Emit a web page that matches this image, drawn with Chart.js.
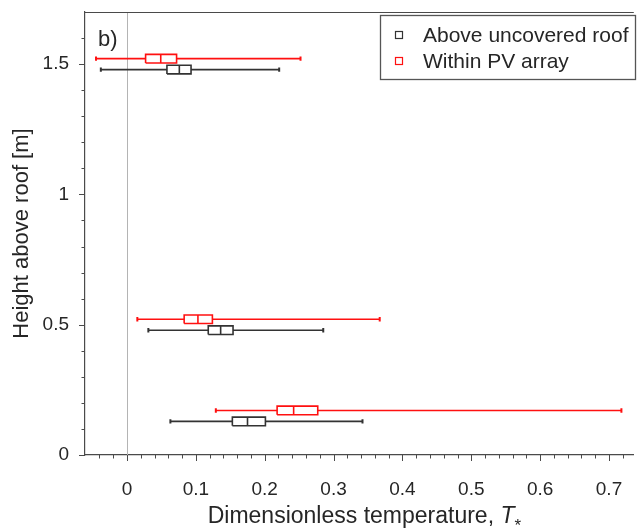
<!DOCTYPE html>
<html><head><meta charset="utf-8">
<script src="https://cdn.jsdelivr.net/npm/chart.js@4.4.0/dist/chart.umd.min.js"></script>
<style>html,body{margin:0;padding:0;background:#fff;overflow:hidden}#wrap{width:638px;height:531px}</style>
</head><body><div id="wrap"><canvas id="c" width="638" height="531"></canvas></div>
<script>
// ---- data ----
const heights = [1.5, 0.5, 0.15];
const seriesNames = ['Above uncovered roof', 'Within PV array'];
// per height: lower whisker, Q1, median, Q3, upper whisker
const uncoveredLow = [-0.038, 0.031, 0.063];
const uncoveredQ1  = [0.058, 0.118, 0.153];
const uncoveredMed = [0.076, 0.136, 0.175];
const uncoveredQ3  = [0.093, 0.154, 0.201];
const uncoveredHigh= [0.221, 0.285, 0.342];
const pvLow  = [-0.045, 0.015, 0.129];
const pvQ1   = [0.027, 0.083, 0.218];
const pvMed  = [0.049, 0.103, 0.242];
const pvQ3   = [0.072, 0.124, 0.277];
const pvHigh = [0.252, 0.367, 0.718];
const xTickLabels = [0, 0.1, 0.2, 0.3, 0.4, 0.5, 0.6, 0.7];
const yTickLabels = [0, 0.5, 1, 1.5];
const xMinorTicks = [-0.04,-0.02,0.02,0.04,0.06,0.08,0.12,0.14,0.16,0.18,0.22,0.24,0.26,0.28,0.32,0.34,0.36,0.38,0.42,0.44,0.46,0.48,0.52,0.54,0.56,0.58,0.62,0.64,0.66,0.68,0.72];
const yMinorTicks = [0.1,0.2,0.3,0.4,0.6,0.7,0.8,0.9,1.1,1.2,1.3,1.4,1.6];

// ---- styling ----
const FONT = "'Liberation Sans', Arial, Helvetica, sans-serif";
const TXT = '#262626';
const AX = '#4a4a4a';
const BLACK = '#333333';
const RED = '#ff1010';
const PAIR_OFFSET = 0.021;   // vertical offset of each series from its height (y units)
const BOX_HALF = 0.0165;     // half box height (y units)

function makeBoxDatasets(low, q1, med, q3, high, color, sign) {
  const out = [];
  heights.forEach((h, i) => {
    const y = h + sign * PAIR_OFFSET;
    out.push({
      data: [{x: low[i], y}, {x: q1[i], y}, {x: (q1[i] + q3[i]) / 2, y: null}, {x: q3[i], y}, {x: high[i], y}],
      borderColor: color, borderWidth: 1.6, spanGaps: false,
      pointRadius: [2.2, 0, 0, 0, 2.2], pointStyle: 'line', pointRotation: 90,
      pointBorderColor: color, pointBorderWidth: 2, pointHoverRadius: 0
    });
    out.push({
      data: [{x: q1[i], y: y - BOX_HALF}, {x: q3[i], y: y - BOX_HALF}, {x: q3[i], y: y + BOX_HALF}, {x: q1[i], y: y + BOX_HALF}, {x: q1[i], y: y - BOX_HALF}],
      borderColor: color, borderWidth: 1.6, pointRadius: 0, borderJoinStyle: 'miter'
    });
    out.push({
      data: [{x: med[i], y: y - BOX_HALF}, {x: med[i], y: y + BOX_HALF}],
      borderColor: color, borderWidth: 1.6, pointRadius: 0
    });
  });
  return out;
}

const datasets = [
  ...makeBoxDatasets(uncoveredLow, uncoveredQ1, uncoveredMed, uncoveredQ3, uncoveredHigh, BLACK, -1),
  ...makeBoxDatasets(pvLow, pvQ1, pvMed, pvQ3, pvHigh, RED, +1)
];

const decor = {
  id: 'decor',
  beforeDatasetsDraw(chart) {
    const {ctx, chartArea: a, scales: {x}} = chart;
    const px = Math.round(x.getPixelForValue(0)) + 0.5;
    ctx.save();
    ctx.strokeStyle = '#b4b4b4'; ctx.lineWidth = 1;
    ctx.beginPath(); ctx.moveTo(px, a.top); ctx.lineTo(px, a.bottom); ctx.stroke();
    ctx.restore();
  },
  afterDraw(chart) {
    const {ctx, chartArea: a, scales: {x, y}} = chart;
    ctx.save();
    ctx.strokeStyle = AX; ctx.lineWidth = 1.2;
    // top box line
    ctx.beginPath(); ctx.moveTo(a.left, a.top + 0.5); ctx.lineTo(a.right, a.top + 0.5); ctx.stroke();
    // tick marks (outward)
    ctx.lineWidth = 1;
    ctx.beginPath();
    xTickLabels.forEach(v => { const p = Math.round(x.getPixelForValue(v)) + 0.5; ctx.moveTo(p, a.bottom); ctx.lineTo(p, a.bottom + 6); });
    xMinorTicks.forEach(v => { const p = Math.round(x.getPixelForValue(v)) + 0.5; ctx.moveTo(p, a.bottom); ctx.lineTo(p, a.bottom + 3.5); });
    yTickLabels.forEach(v => { const p = Math.round(y.getPixelForValue(v)) + 0.5; ctx.moveTo(a.left, p); ctx.lineTo(a.left - 6, p); });
    yMinorTicks.forEach(v => { const p = Math.round(y.getPixelForValue(v)) + 0.5; ctx.moveTo(a.left, p); ctx.lineTo(a.left - 3.5, p); });
    ctx.stroke();

    // x axis title with italic T and subscript star
    const cx = (a.left + a.right) / 2 + 5, ty = 517;
    ctx.fillStyle = TXT; ctx.textBaseline = 'middle'; ctx.textAlign = 'left';
    const partA = 'Dimensionless temperature, ';
    ctx.font = '23px ' + FONT; const wA = ctx.measureText(partA).width;
    ctx.font = 'italic 23px ' + FONT; const wT = ctx.measureText('T').width;
    ctx.font = '17px ' + FONT; const wS = ctx.measureText('*').width;
    let sx = cx - (wA + wT + wS) / 2;
    ctx.font = '23px ' + FONT; ctx.fillText(partA, sx, ty); sx += wA;
    ctx.font = 'italic 23px ' + FONT; ctx.fillText('T', sx, ty); sx += wT;
    ctx.font = '17px ' + FONT; ctx.fillText('*', sx, ty + 9);

    // panel label
    ctx.font = '22px ' + FONT; ctx.textBaseline = 'alphabetic';
    ctx.fillText('b)', 98, 46);

    // legend
    const lx = 380.5, ly = 15.5, lw = 255, lh = 64;
    ctx.fillStyle = '#fff'; ctx.fillRect(lx, ly, lw, lh);
    ctx.strokeStyle = '#555'; ctx.lineWidth = 1.3; ctx.strokeRect(lx, ly, lw, lh);
    const items = [[seriesNames[0], BLACK, 35], [seriesNames[1], RED, 61]];
    items.forEach(([t, c, yy]) => {
      ctx.strokeStyle = c; ctx.lineWidth = 1.2;
      ctx.strokeRect(395.5, yy - 3.5, 7, 7);
      ctx.fillStyle = TXT; ctx.font = '21px ' + FONT; ctx.textBaseline = 'middle';
      ctx.fillText(t, 423, yy + 1);
    });
    ctx.restore();
  }
};

new Chart(document.getElementById('c'), {
  type: 'line',
  data: {datasets},
  options: {
    responsive: false, animation: false, devicePixelRatio: 1,
    layout: {padding: {top: 12, right: 0, left: 0, bottom: 0}},
    plugins: {legend: {display: false}, tooltip: {enabled: false}},
    events: [],
    scales: {
      x: {
        type: 'linear', position: 'bottom', min: -0.061, max: 0.736,
        grid: {display: false},
        border: {display: true, color: AX, width: 1.2},
        afterBuildTicks: s => { s.ticks = xTickLabels.map(v => ({value: v})); },
        afterFit: s => { s.height = 76; s.paddingLeft = 0; s.paddingRight = 0; s.paddingTop = 0; s.paddingBottom = 0; },
        ticks: {font: {size: 19, family: FONT}, color: TXT, padding: 15, maxRotation: 0, autoSkip: false,
                callback: v => String(v)}
      },
      y: {
        type: 'linear', position: 'left', min: 0, max: 1.7,
        grid: {display: false},
        border: {display: true, color: AX, width: 1.2},
        afterBuildTicks: s => { s.ticks = yTickLabels.map(v => ({value: v})); },
        afterFit: s => { s.width = 85; s.paddingLeft = 0; s.paddingRight = 0; s.paddingTop = 0; s.paddingBottom = 0; },
        ticks: {font: {size: 19, family: FONT}, color: TXT, padding: 8, autoSkip: false,
                callback: v => String(v)},
        title: {display: true, text: 'Height above roof [m]', font: {size: 22, family: FONT}, color: TXT, padding: {top: 9, bottom: 0}}
      }
    }
  },
  plugins: [decor]
});
</script>
</body></html>
